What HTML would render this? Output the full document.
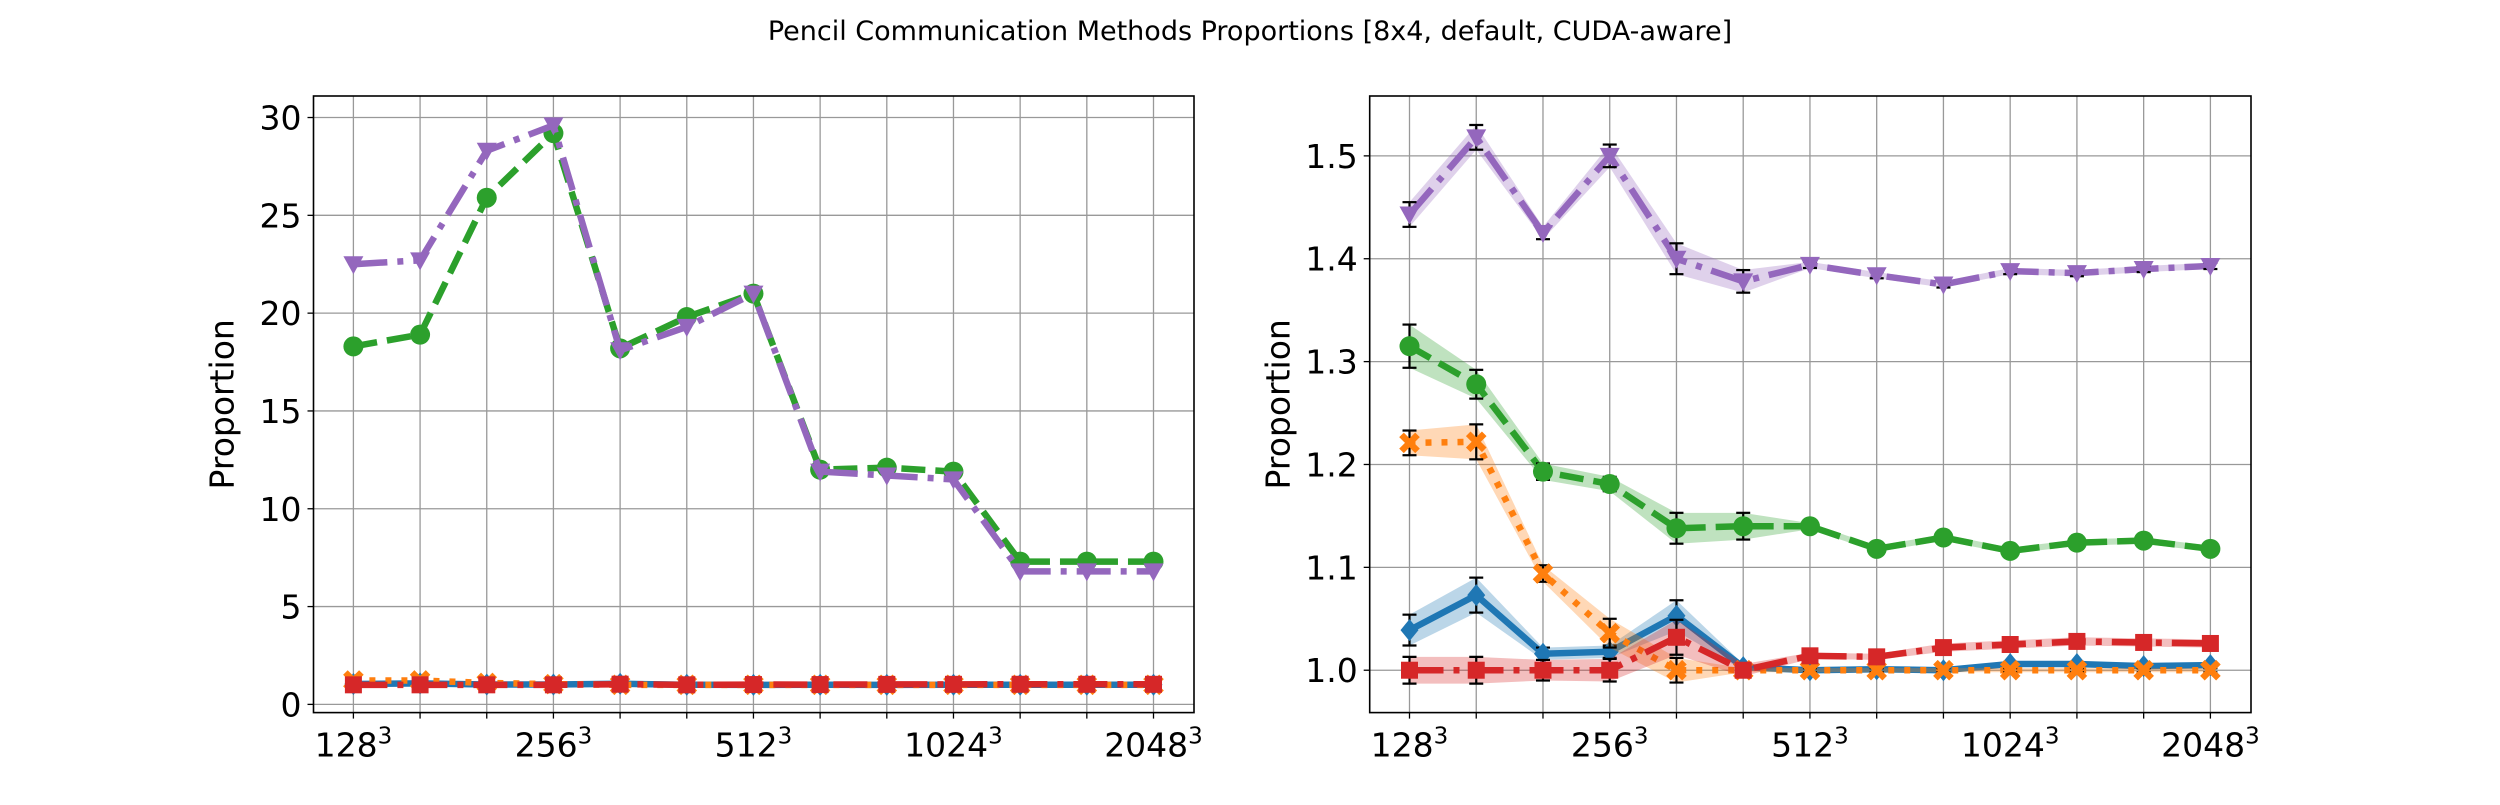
<!DOCTYPE html>
<html><head><meta charset="utf-8"><style>
body{margin:0;background:#fff;width:2500px;height:800px;overflow:hidden}
svg{font-family:"DejaVu Sans","Liberation Sans",sans-serif}
</style></head><body>
<svg id="chart" width="2500" height="800" xmlns="http://www.w3.org/2000/svg">
<text x="1250" y="40" font-size="27" text-anchor="middle">Pencil Communication Methods Proportions [8x4, default, CUDA-aware]</text>
</svg>
<script>
const categories=["128","","","256","","","512","","","1024","","","2048"];
const leftPurple=[22.5,22.7,28.3,29.6,18.1,19.3,21.0,11.9,11.7,11.5,6.8,6.8,6.8];
const leftGreen=[18.3,18.9,25.9,29.2,18.2,19.8,21.0,12.0,12.1,11.9,7.3,7.3,7.3];
const purple=[1.443,1.518,1.425,1.500,1.400,1.378,1.394,1.384,1.375,1.388,1.386,1.390,1.393];
const purpleErr=[0.012,0.012,0.006,0.011,0.015,0.011,0.003,0.003,0.003,0.003,0.003,0.003,0.003];
const green=[1.315,1.278,1.193,1.181,1.138,1.140,1.140,1.118,1.129,1.116,1.124,1.126,1.118];
const greenErr=[0.021,0.014,0.008,0.007,0.015,0.013,0.003,0.003,0.003,0.003,0.003,0.003,0.003];
const orange=[1.221,1.222,1.094,1.036,1.000,1.000,1.000,1.000,1.000,1.000,1.000,1.000,1.000];
const orangeErr=[0.012,0.017,0.008,0.014,0.012,0.002,0.002,0.002,0.002,0.002,0.002,0.002,0.002];
const blue=[1.039,1.073,1.016,1.018,1.053,1.003,1.000,1.001,1.000,1.006,1.006,1.004,1.005];
const blueErr=[0.015,0.017,0.006,0.006,0.015,0.003,0.002,0.002,0.002,0.002,0.002,0.002,0.002];
const red=[1.000,1.000,1.000,1.000,1.032,1.000,1.014,1.013,1.022,1.025,1.028,1.027,1.026];
const redErr=[0.013,0.013,0.010,0.011,0.017,0.006,0.003,0.003,0.004,0.004,0.004,0.004,0.004];
const leftTicks=[0,5,10,15,20,25,30];
const rightTicks=[1.0,1.1,1.2,1.3,1.4,1.5];

const NS="http://www.w3.org/2000/svg";
const svg=document.getElementById('chart');
function el(tag,attrs,parent){const e=document.createElementNS(NS,tag);for(const k in attrs)e.setAttribute(k,attrs[k]);(parent||svg).appendChild(e);return e;}

function panel(name,L,R,x0,x1,ymin,ymax,yticks,fmt,series){
  const T=96,B=712.6;
  const g=el('g',{});
  
  
  const xs=i=>x0+(x1-x0)*i/12;
  const ys=v=>B-(v-ymin)/(ymax-ymin)*(B-T);
  categories.forEach((c,i)=>{
    const l=el('line',{x1:xs(i),x2:xs(i),y1:T,y2:B,stroke:'#999','stroke-width':1.3},g);
    
    
    el('line',{x1:xs(i),x2:xs(i),y1:B,y2:B+6,stroke:'#000','stroke-width':1.3},g);
    if(c){
      const t=el('text',{x:xs(i),y:B+44,'font-size':33,'text-anchor':'middle'},g);
      
      
      t.textContent=c;
      const s=el('tspan',{dy:-13,'font-size':23},t);s.textContent='3';
    }
  });
  yticks.forEach(v=>{
    const l=el('line',{x1:L,x2:R,y1:ys(v),y2:ys(v),stroke:'#999','stroke-width':1.3},g);
    
    
    el('line',{x1:L-6,x2:L,y1:ys(v),y2:ys(v),stroke:'#000','stroke-width':1.3},g);
    const t=el('text',{x:L-12,y:ys(v)+12,'font-size':33,'text-anchor':'end'},g);
    
    
    t.textContent=fmt(v);
  });
  const yl=el('text',{x:0,y:0,'font-size':33,'text-anchor':'middle',transform:`translate(${L-80},${(T+B)/2}) rotate(-90)`},g);
  
  
  yl.textContent='Proportion';
  const cp='clip'+name;
  const cl=el('clipPath',{id:cp},g);el('rect',{x:L,y:T,width:R-L,height:B-T},cl);
  const sg=el('g',{'clip-path':`url(#${cp})`},g);
  series.forEach(s=>{
    const sgg=el('g',{},sg);
    
    
    if(s.err){
      const up=s.v.map((v,i)=>xs(i)+','+ys(v+s.err[i]));
      const dn=s.v.map((v,i)=>xs(i)+','+ys(v-s.err[i])).reverse();
      el('polygon',{points:up.concat(dn).join(' '),fill:s.c,'fill-opacity':0.3},sgg);
    }
    el('polyline',{points:s.v.map((v,i)=>xs(i)+','+ys(v)).join(' '),fill:'none',stroke:s.c,'stroke-width':6.5,'stroke-dasharray':s.d},sgg);
    s.v.forEach((v,i)=>{
      const x=xs(i),y=ys(v);
      if(s.err){
        const e=s.err[i];
        el('line',{x1:x,x2:x,y1:ys(v+e),y2:ys(v-e),stroke:'#000','stroke-width':2.2},sgg);
        el('line',{x1:x-7,x2:x+7,y1:ys(v+e),y2:ys(v+e),stroke:'#000','stroke-width':2.2},sgg);
        el('line',{x1:x-7,x2:x+7,y1:ys(v-e),y2:ys(v-e),stroke:'#000','stroke-width':2.2},sgg);
      }
      let m;
      if(s.m==='o')m=el('circle',{cx:x,cy:y,r:10,fill:s.c},sgg);
      else if(s.m==='s')m=el('rect',{x:x-8.5,y:y-8.5,width:17,height:17,fill:s.c},sgg);
      else if(s.m==='v')m=el('polygon',{points:`${x-10},${y-8} ${x+10},${y-8} ${x},${y+10}`,fill:s.c},sgg);
      else if(s.m==='d')m=el('polygon',{points:`${x},${y-11} ${x+9},${y} ${x},${y+11} ${x-9},${y}`,fill:s.c},sgg);
      else m=el('path',{d:`M${x-8},${y-8}L${x+8},${y+8}M${x+8},${y-8}L${x-8},${y+8}`,stroke:s.c,'stroke-width':6.5},sgg);
      
      
    });
  });
  el('rect',{x:L,y:T,width:R-L,height:B-T,fill:'none',stroke:'#000','stroke-width':1.6},g);
}
const DASH='24,10',DD='34,10,6,10',DOT='6,10';
panel('left-panel',313.5,1194,353.4,1153.5,-0.42,31.1,leftTicks,v=>String(v),[
  {name:'series-blue',v:blue,c:'#1f77b4',d:'',m:'d'},
  {name:'series-orange',v:orange,c:'#ff7f0e',d:DOT,m:'x'},
  {name:'series-green',v:leftGreen,c:'#2ca02c',d:DASH,m:'o'},
  {name:'series-red',v:red,c:'#d62728',d:DD,m:'s'},
  {name:'series-purple',v:leftPurple,c:'#9467bd',d:DD,m:'v'}
]);
panel('right-panel',1369.7,2251,1409.5,2210.4,0.9588,1.5582,rightTicks,v=>v.toFixed(1),[
  {name:'series-blue',v:blue,err:blueErr,c:'#1f77b4',d:'',m:'d'},
  {name:'series-orange',v:orange,err:orangeErr,c:'#ff7f0e',d:DOT,m:'x'},
  {name:'series-green',v:green,err:greenErr,c:'#2ca02c',d:DASH,m:'o'},
  {name:'series-red',v:red,err:redErr,c:'#d62728',d:DD,m:'s'},
  {name:'series-purple',v:purple,err:purpleErr,c:'#9467bd',d:DD,m:'v'}
]);
</script>
</body></html>
